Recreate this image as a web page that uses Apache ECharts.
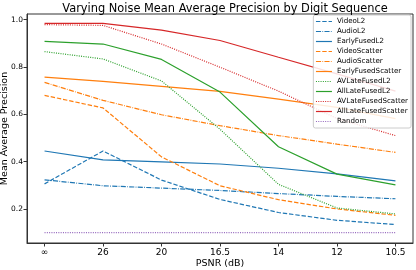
<!DOCTYPE html>
<html><head><meta charset="utf-8">
<script src="https://cdn.jsdelivr.net/npm/echarts@6/dist/echarts.min.js"></script>
<style>html,body{margin:0;padding:0;background:#fff}#c{width:416px;height:270px}</style>
</head><body><div id="c"></div>
<script>
var categories = ['∞','26','20','16.5','14','12','10.5'];
var yTicks = [0.2,0.4,0.6,0.8,1.0];
var seriesNames = ['VideoL2','AudioL2','EarlyFusedL2','VideoScatter','AudioScatter','EarlyFusedScatter','AVLateFusedL2','AllLateFusedL2','AVLateFusedScatter','AllLateFusedScatter','Random'];
var VideoL2 = [0.306,0.445,0.322,0.240,0.185,0.152,0.134];
var AudioL2 = [0.323,0.298,0.288,0.278,0.265,0.253,0.243];
var EarlyFusedL2 = [0.445,0.407,0.399,0.390,0.372,0.348,0.319];
var VideoScatter = [0.680,0.627,0.420,0.298,0.239,0.200,0.173];
var AudioScatter = [0.735,0.659,0.598,0.552,0.510,0.474,0.439];
var EarlyFusedScatter = [0.757,0.739,0.718,0.697,0.664,0.629,0.582];
var AVLateFusedL2 = [0.865,0.834,0.741,0.537,0.304,0.204,0.179];
var AllLateFusedL2 = [0.908,0.897,0.832,0.694,0.463,0.347,0.302];
var AVLateFusedScatter = [0.979,0.976,0.897,0.799,0.698,0.582,0.510];
var AllLateFusedScatter = [0.984,0.984,0.956,0.912,0.841,0.771,0.698];
var Random = [0.1,0.1,0.1,0.1,0.1,0.1,0.1];

var values = [VideoL2,AudioL2,EarlyFusedL2,VideoScatter,AudioScatter,EarlyFusedScatter,AVLateFusedL2,AllLateFusedL2,AVLateFusedScatter,AllLateFusedScatter,Random];
var C0='#1f77b4',C1='#ff7f0e',C2='#2ca02c',C3='#d62728',C4='#9467bd';
var colors = [C0,C0,C0,C1,C1,C1,C2,C2,C3,C3,C4];
var DASH=[4.4,1.9], DASHDOT=[5.1,1.3,0.8,1.3], DOT=[1,1.3];
var styles = [DASH,DASHDOT,'solid',DASH,DASHDOT,'solid',DOT,'solid',DOT,'solid',DOT];

var series = seriesNames.map(function(n,k){
  return {
    name:n, type:'line', symbol:'none', animation:false,
    data: values[k].map(function(v,i){return [i,v];}),
    lineStyle:{color:colors[k], width:1.2, type:styles[k]},
    itemStyle:{color:colors[k]}
  };
});

var chart = echarts.init(document.getElementById('c'), null, {renderer:'canvas'});
chart.setOption({
  animation:false,
  title:{text:'Varying Noise Mean Average Precision by Digit Sequence', left:220, textAlign:'center', top:-1,
    textStyle:{fontFamily:'DejaVu Sans', fontSize:11.4, fontWeight:'normal', color:'#000'}},
  grid:{left:27, right:3, top:14, bottom:27, show:true, borderColor:'#333', borderWidth:1,
    containLabel:false, outerBoundsMode:'none'},
  legend:{orient:'vertical', right:5, top:15, data:seriesNames, itemWidth:16, itemHeight:8, itemGap:3,
    backgroundColor:'rgba(255,255,255,0.85)', borderColor:'#ccc', borderWidth:1, borderRadius:2, padding:[3,3,3,2],
    itemStyle:{opacity:0},
    lineStyle:{width:1.2},
    textStyle:{fontFamily:'DejaVu Sans', fontSize:7.1, color:'#000'}},
  xAxis:{type:'value', min:-0.3, max:6.3,
    name:'PSNR (dB)', nameLocation:'middle', nameGap:16, nameMoveOverlap:false,
    nameTextStyle:{fontFamily:'DejaVu Sans', fontSize:9.5, color:'#000'},
    axisLine:{show:true, onZero:false, lineStyle:{color:'#333', width:1}},
    axisTick:{show:true, length:3.5, lineStyle:{color:'#333'}, customValues:[0,1,2,3,4,5,6]},
    axisLabel:{fontFamily:'DejaVu Sans', fontSize:9, color:'#000', margin:5,
      customValues:[0,1,2,3,4,5,6], formatter:function(v){return categories[Math.round(v)];}},
    splitLine:{show:false}},
  yAxis:{type:'value', min:0.056, max:1.024,
    name:'Mean Average Precision', nameLocation:'middle', nameGap:17, nameRotate:90, nameMoveOverlap:false,
    nameTextStyle:{fontFamily:'DejaVu Sans', fontSize:9.5, color:'#000'},
    axisLine:{show:true, onZero:false, lineStyle:{color:'#333', width:1}},
    axisTick:{show:true, length:3.5, lineStyle:{color:'#333'}, customValues:yTicks},
    axisLabel:{fontFamily:'DejaVu Sans', fontSize:7.5, color:'#000', margin:4,
      customValues:yTicks, formatter:function(v){return v.toFixed(1);}},
    splitLine:{show:false}},
  series:series
});
</script></body></html>
